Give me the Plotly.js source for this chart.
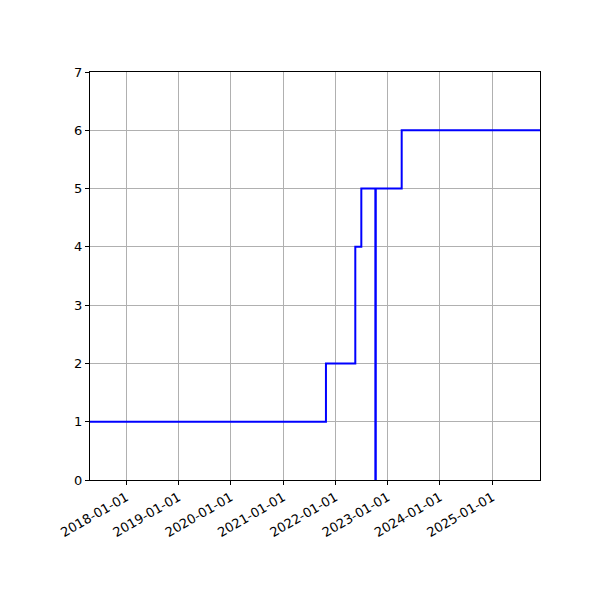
<!DOCTYPE html>
<html>
<head>
<meta charset="utf-8">
<script src="https://cdn.plot.ly/plotly-3.0.1.min.js"></script>
<style>
  html, body { margin: 0; padding: 0; background: white; }
  #chart { width: 600px; height: 600px; }
</style>
</head>
<body>
<div id="chart"></div>
<script>
// step dates and the count that holds from each date on
var dates = ['2017-04-23', '2021-10-27', '2022-05-20', '2022-07-01', '2022-10-07', '2022-10-10', '2023-04-09', '2025-11-30']
var counts = [1, 2, 4, 5, 0, 5, 6, 6]

var data = [{
  type: 'scatter',
  mode: 'lines',
  x: dates,
  y: counts,
  line: { shape: 'hv', color: '#0000ff', width: 2 },
  hoverinfo: 'x+y'
}]

var axisFont = { family: 'DejaVu Sans', size: 13, color: 'black' }

var layout = {
  width: 600,
  height: 600,
  margin: { l: 90, r: 60, t: 72, b: 120 },
  paper_bgcolor: 'white',
  plot_bgcolor: 'white',
  showlegend: false,
  xaxis: {
    type: 'date',
    range: [dates[0], dates[dates.length - 1]],
    tick0: '2018-01-01',
    dtick: 'M12',
    tickformat: '%Y-%m-%d',
    tickangle: -30,
    tickfont: axisFont,
    showgrid: true,
    gridcolor: '#b0b0b0',
    gridwidth: 1,
    zeroline: false,
    showline: true,
    linecolor: 'black',
    linewidth: 1,
    mirror: true,
    ticks: 'outside',
    ticklen: 4,
    tickcolor: 'black'
  },
  yaxis: {
    range: [0, 7],
    dtick: 1,
    tick0: 0,
    tickfont: axisFont,
    showgrid: true,
    gridcolor: '#b0b0b0',
    gridwidth: 1,
    zeroline: false,
    showline: true,
    linecolor: 'black',
    linewidth: 1,
    mirror: true,
    ticks: 'outside',
    ticklen: 4,
    tickcolor: 'black'
  }
}

Plotly.newPlot('chart', data, layout, { displayModeBar: false, staticPlot: true })
</script>
</body>
</html>
